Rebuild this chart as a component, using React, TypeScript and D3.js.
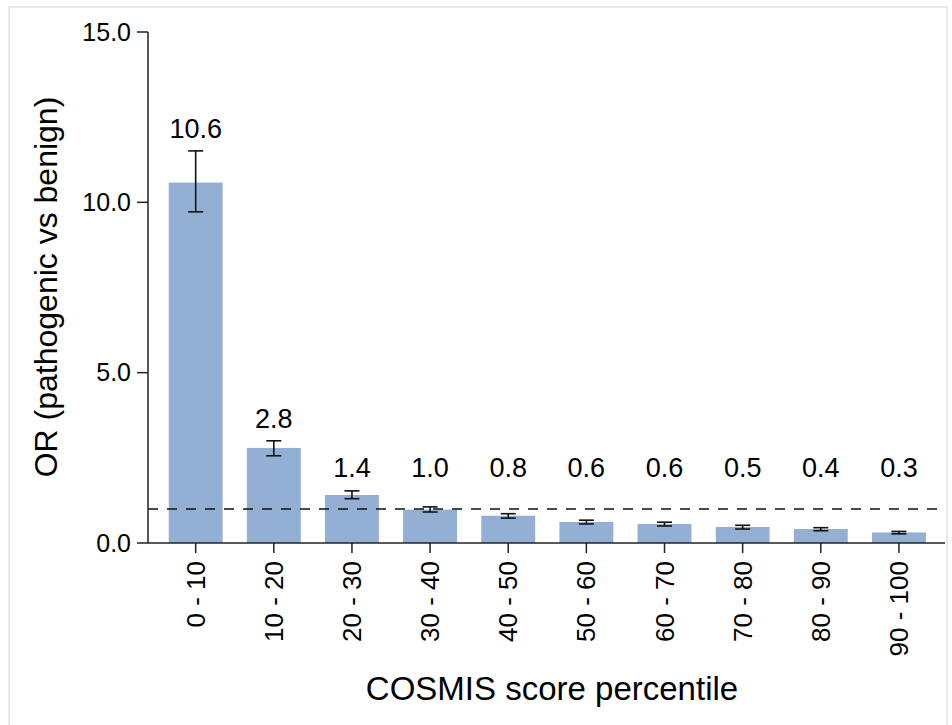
import React from "react";
import * as d3 from "d3";

const categories = ["0 - 10", "10 - 20", "20 - 30", "30 - 40", "40 - 50", "50 - 60", "60 - 70", "70 - 80", "80 - 90", "90 - 100"];
const orValues = [10.58, 2.79, 1.41, 0.98, 0.8, 0.62, 0.56, 0.47, 0.41, 0.31];
const ciLower = [9.72, 2.56, 1.3, 0.91, 0.73, 0.56, 0.5, 0.41, 0.36, 0.27];
const ciUpper = [11.51, 3.0, 1.53, 1.06, 0.86, 0.67, 0.61, 0.52, 0.45, 0.34];
const yTickValues = [0, 5, 10, 15];
const refLine = 1.0;

const FONT = "'Liberation Sans', Arial, Helvetica, sans-serif";

const App = () => {
    const W = 952;
    const H = 725;
    const axisX = 148;
    const axisY = 543;
    const axisRight = 945;

    // scales
    const xScale = d3.scaleBand<string>()
        .domain(categories)
        .range([156.6, 938])
        .paddingInner(0.31)
        .paddingOuter(0.155);

    const yScale = d3.scaleLinear()
        .domain([0, 15])
        .range([axisY, 32]);

    const fmt = d3.format(".1f");
    const cx = (c: string) => (xScale(c) ?? 0) + xScale.bandwidth() / 2;

    return (
        <svg width={W} height={H} viewBox={`0 0 ${W} ${H}`}
            style={{ position: "absolute", left: 0, top: 0, background: "#fff", fontFamily: FONT }}>
            {/* light frame */}
            <path d={`M9,${H} V7 H947 V${H}`} fill="none" stroke="#e2e2e2" strokeWidth={1.5} />

            {/* Bars */}
            {categories.map((c, i) => (
                <rect key={c}
                    x={xScale(c)}
                    y={yScale(orValues[i])}
                    width={xScale.bandwidth()}
                    height={yScale(0) - yScale(orValues[i])}
                    fill="#94afd4"
                />
            ))}

            {/* Reference line OR = 1 */}
            <line x1={axisX} x2={axisRight} y1={yScale(refLine)} y2={yScale(refLine)}
                stroke="#111" strokeWidth={1.6} strokeDasharray="10,9" />

            {/* Error bars */}
            {categories.map((c, i) => {
                const x = cx(c);
                const y1 = yScale(ciUpper[i]);
                const y2 = yScale(ciLower[i]);
                return (
                    <g key={c} stroke="#111" strokeWidth={1.6}>
                        <line x1={x} x2={x} y1={y1} y2={y2} />
                        <line x1={x - 7.5} x2={x + 7.5} y1={y1} y2={y1} />
                        <line x1={x - 7.5} x2={x + 7.5} y1={y2} y2={y2} />
                    </g>
                );
            })}

            {/* Value labels */}
            {categories.map((c, i) => (
                <text key={c}
                    x={cx(c)}
                    y={Math.min(yScale(ciUpper[i]), yScale(1.55)) - 13}
                    textAnchor="middle"
                    style={{ fontSize: "27px", fill: "#000" }}
                >
                    {fmt(orValues[i])}
                </text>
            ))}

            {/* Y-axis */}
            <g>
                <line x1={axisX} x2={axisX} y1={yScale(0)} y2={yScale(15)} stroke="#222" strokeWidth={1.5} />
                {yTickValues.map(t => (
                    <g key={t} transform={`translate(0, ${yScale(t)})`}>
                        <line x1={axisX - 11} x2={axisX} stroke="#222" strokeWidth={1.5} />
                        <text x={131} dy="0.35em" textAnchor="end" style={{ fontSize: "25px" }}>
                            {fmt(t)}
                        </text>
                    </g>
                ))}
            </g>

            {/* X-axis */}
            <g>
                <line x1={axisX} x2={axisRight} y1={axisY} y2={axisY} stroke="#222" strokeWidth={1.5} />
                {categories.map(c => (
                    <g key={c} transform={`translate(${cx(c)}, ${axisY})`}>
                        <line y2={10} stroke="#222" strokeWidth={1.5} />
                        <text transform="rotate(-90)" x={-18} dy="0.35em" textAnchor="end"
                            style={{ fontSize: "26px" }}>
                            {c}
                        </text>
                    </g>
                ))}
            </g>

            {/* Axis titles */}
            <text x={552} y={700} textAnchor="middle" style={{ fontSize: "33px" }}>
                COSMIS score percentile
            </text>
            <text transform="rotate(-90)" x={-287} y={57} textAnchor="middle" style={{ fontSize: "32px" }}>
                OR (pathogenic vs benign)
            </text>
        </svg>
    );
};

export default App;
